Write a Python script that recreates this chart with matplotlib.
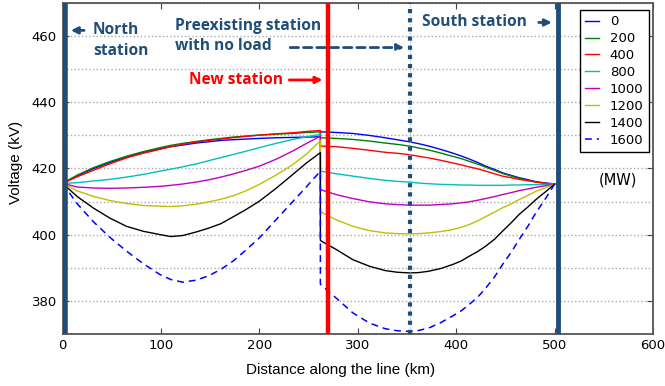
# Voltage profile along the line for different loads at the new station

import numpy as np
import matplotlib
matplotlib.use('Agg')
import matplotlib.pyplot as plt
from matplotlib.ticker import MultipleLocator

# Data
# distance along the line (km), north part and south part of the new station
x_left = [0, 15, 31, 48, 65, 82, 99, 110, 122, 136, 149, 161, 173, 186, 200, 217, 234, 248, 262]
x_right = [262, 278, 295, 312, 328, 340, 352, 362, 372, 384, 396, 405, 413, 422, 430, 439, 447, 456, 464, 473, 481, 491, 500]

loads = ['0', '200', '400', '800', '1000', '1200', '1400', '1600']  # MW

# voltages (kV), north part
v_left_0 = [415.5, 417.8, 419.9, 421.8, 423.5, 424.9, 426.0, 426.6, 427.1, 427.7, 428.1, 428.5, 428.7, 428.9, 429.1, 429.3, 429.4, 429.5, 429.6]
v_left_200 = [415.5, 418.0, 420.2, 422.1, 423.7, 425.1, 426.3, 427.0, 427.6, 428.2, 428.7, 429.1, 429.5, 429.8, 430.1, 430.4, 430.6, 430.9, 431.1]
v_left_400 = [415.5, 417.5, 419.4, 421.4, 423.2, 424.6, 425.8, 426.6, 427.3, 428.0, 428.5, 428.9, 429.3, 429.7, 430.1, 430.5, 430.8, 431.2, 431.5]
v_left_800 = [415.5, 415.7, 416.2, 416.7, 417.4, 418.2, 419.2, 419.8, 420.5, 421.4, 422.4, 423.3, 424.2, 425.2, 426.3, 427.6, 428.8, 429.6, 430.3]
v_left_1000 = [415.5, 414.4, 414.1, 414.0, 414.1, 414.3, 414.6, 414.9, 415.3, 415.9, 416.6, 417.4, 418.3, 419.4, 420.7, 422.8, 425.3, 427.6, 429.8]
v_left_1200 = [415.5, 413.2, 411.6, 410.3, 409.4, 408.8, 408.6, 408.5, 408.7, 409.2, 409.9, 410.7, 411.7, 413.2, 415.2, 418.0, 421.2, 424.4, 428.4]
v_left_1400 = [415.5, 411.5, 408.1, 405.0, 402.5, 401.0, 400.0, 399.4, 399.7, 400.8, 402.0, 403.3, 405.3, 407.5, 410.1, 414.0, 418.2, 421.7, 424.8]
v_left_1600 = [415.5, 409.3, 404.0, 399.2, 395.0, 391.2, 387.9, 386.4, 385.6, 386.2, 387.6, 389.5, 391.9, 395.2, 399.0, 404.5, 410.0, 414.5, 419.2]

# voltages (kV), south part
v_right_0 = [431.1, 430.9, 430.6, 430.0, 429.3, 428.7, 428.1, 427.5, 426.8, 425.8, 424.7, 423.8, 422.9, 421.8, 420.7, 419.7, 418.7, 417.9, 417.2, 416.6, 416.0, 415.6, 415.3]
v_right_200 = [429.3, 429.1, 428.8, 428.3, 427.7, 427.3, 426.8, 426.2, 425.6, 424.7, 423.7, 423.0, 422.2, 421.3, 420.4, 419.4, 418.5, 417.7, 417.0, 416.4, 415.9, 415.5, 415.3]
v_right_400 = [426.8, 426.6, 426.1, 425.5, 424.9, 424.6, 424.2, 423.7, 423.2, 422.5, 421.7, 421.1, 420.5, 419.9, 419.2, 418.4, 417.7, 417.2, 416.7, 416.3, 415.9, 415.5, 415.3]
v_right_800 = [419.2, 418.4, 417.7, 417.0, 416.4, 416.1, 415.9, 415.6, 415.4, 415.2, 415.1, 415.0, 415.0, 414.9, 414.9, 414.9, 414.9, 415.0, 415.0, 415.1, 415.1, 415.2, 415.3]
v_right_1000 = [413.6, 412.1, 410.9, 409.9, 409.3, 409.1, 408.9, 408.9, 408.9, 409.1, 409.3, 409.6, 409.9, 410.4, 410.9, 411.5, 412.1, 412.7, 413.3, 413.8, 414.3, 414.8, 415.3]
v_right_1200 = [406.9, 404.5, 402.5, 401.2, 400.5, 400.3, 400.2, 400.3, 400.5, 400.9, 401.5, 402.2, 403.0, 404.2, 405.4, 406.8, 408.1, 409.3, 410.6, 411.9, 413.1, 414.2, 415.3]
v_right_1400 = [398.2, 395.5, 392.4, 390.4, 389.1, 388.6, 388.4, 388.5, 388.9, 389.7, 390.9, 392.0, 393.4, 394.9, 396.5, 398.6, 401.0, 403.6, 406.1, 408.4, 410.6, 413.0, 415.3]
v_right_1600 = [385.0, 380.8, 376.3, 373.2, 371.5, 370.9, 370.7, 371.0, 371.7, 373.3, 375.3, 376.9, 378.8, 381.1, 383.8, 387.2, 390.9, 394.7, 398.5, 402.6, 406.6, 411.0, 415.3]

v_left = [v_left_0, v_left_200, v_left_400, v_left_800, v_left_1000, v_left_1200, v_left_1400, v_left_1600]
v_right = [v_right_0, v_right_200, v_right_400, v_right_800, v_right_1000, v_right_1200, v_right_1400, v_right_1600]

colors = ['b', 'g', 'r', 'c', 'm', 'y', 'k', 'b']

# station positions (km)
north_km = 3
south_km = 503
new_km = 270
old_km = 353

station_col = '#1f4e79'
ann_font = 'Open Sans'
ann_size = 11.2

plt.rcParams['xtick.direction'] = 'in'
plt.rcParams['ytick.direction'] = 'in'
plt.rcParams['xtick.top'] = True
plt.rcParams['ytick.right'] = True

fig = plt.figure(figsize=(6.65, 3.86), dpi=100)
ax = fig.add_axes([0.094, 0.1355, 0.888, 0.856])

x_all = np.array(x_left + x_right)
for i, lab in enumerate(loads):
    y_all = np.array(v_left[i] + v_right[i])
    if lab == '1600':
        ax.plot(x_all, y_all, color=colors[i], lw=1.1, dashes=(4.5, 3.2), label=lab)
    else:
        ax.plot(x_all, y_all, color=colors[i], lw=1.0, label=lab)

# stations
ax.axvline(north_km, color=station_col, lw=4, zorder=5)
ax.axvline(south_km, color=station_col, lw=3.5, zorder=5)
ax.axvline(new_km, color='#ff0000', lw=3.2, zorder=5)
ax.axvline(old_km, color='#aaaaaa', lw=0.8, ls=':', zorder=4)
ax.axvline(old_km, color=station_col, lw=3, dashes=(1, 1.2), zorder=5)

ax.set_xlim(0, 600)
ax.set_ylim(370, 470)
ax.xaxis.set_major_locator(MultipleLocator(100))
ax.yaxis.set_major_locator(MultipleLocator(20))
ax.yaxis.set_minor_locator(MultipleLocator(10))
ax.tick_params(which='minor', length=0)
ax.tick_params(which='major', labelsize=9.5, pad=4, length=4, color='#444444')
ax.grid(True, axis='y', which='both', ls=':', lw=1, color='#aaaaaa')
for s in ax.spines.values():
    s.set_color('#555555')
    s.set_linewidth(1.3)

ax.set_xlabel('Distance along the line (km)', fontsize=11, family='Liberation Sans')
ax.set_ylabel('Voltage (kV)', fontsize=11, family='Liberation Sans')
ax.xaxis.set_label_coords(0.4716, -0.09)
ax.yaxis.set_label_coords(-0.067, 0.518)

leg = ax.legend(loc='upper right', bbox_to_anchor=(0.993, 0.98), borderaxespad=0,
                fancybox=False, edgecolor='black', framealpha=1, fontsize=9.5,
                handlelength=1.1, handletextpad=0.8, labelspacing=0.3, borderpad=0.4)
leg.get_frame().set_linewidth(1.0)

ax.text(564, 416.5, '(MW)', fontsize=10.5, ha='center', va='center')

# annotations
ax.text(31, 458.8, 'North\nstation', color=station_col, fontsize=ann_size, fontweight='bold',
        family=ann_font, ha='left', va='center', linespacing=1.4)
ax.annotate('', xy=(5.6, 461.8), xytext=(24.8, 461.8),
            arrowprops=dict(arrowstyle='-|>', lw=2, color=station_col, mutation_scale=10))

ax.text(114, 460.1, 'Preexisting station\nwith no load', color=station_col, fontsize=ann_size,
        fontweight='bold', family=ann_font, ha='left', va='center', linespacing=1.4)
ax.annotate('', xy=(350, 456.6), xytext=(228.5, 456.6),
            arrowprops=dict(arrowstyle='-|>', lw=2, ls=(0, (3, 1.8)), color=station_col,
                            mutation_scale=10))

ax.text(128.3, 446.8, 'New station', color='#ff0000', fontsize=ann_size, fontweight='bold',
        family=ann_font, ha='left', va='center')
ax.annotate('', xy=(267, 446.8), xytext=(227.6, 446.8),
            arrowprops=dict(arrowstyle='-|>', lw=2, color='#ff0000', mutation_scale=10))

ax.text(365.4, 464.2, 'South station', color=station_col, fontsize=ann_size, fontweight='bold',
        family=ann_font, ha='left', va='center')
ax.annotate('', xy=(500, 464.2), xytext=(481, 464.2),
            arrowprops=dict(arrowstyle='-|>', lw=2, color=station_col, mutation_scale=10))

plt.savefig('out.png', dpi=100)
